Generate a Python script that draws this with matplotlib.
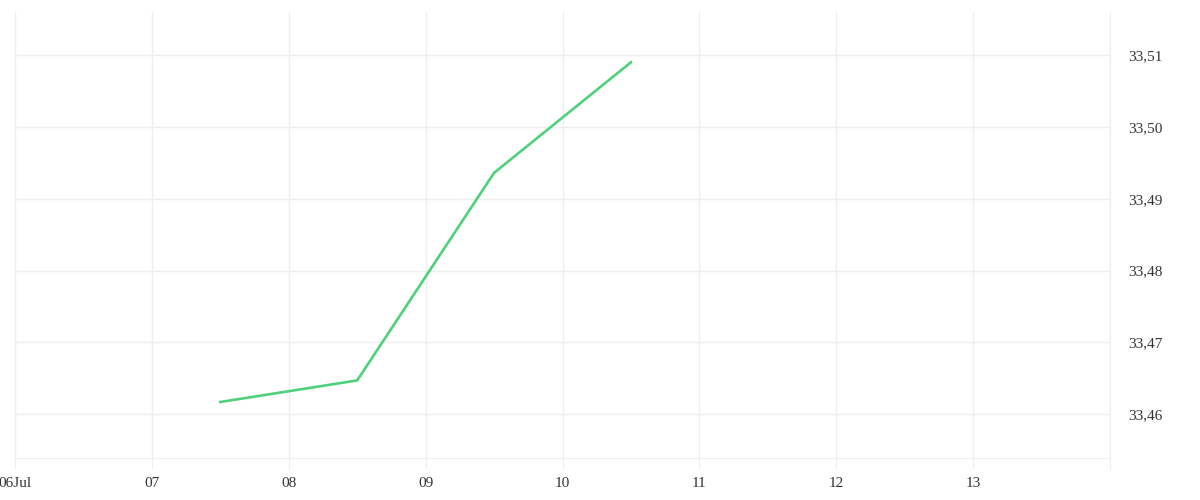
import numpy as np
import matplotlib.pyplot as plt
import matplotlib.dates as mdates
from matplotlib.ticker import FixedLocator, FuncFormatter

# data
dates = np.array(['2024-07-07T12:00', '2024-07-08T12:00', '2024-07-09T12:00', '2024-07-10T12:00'], dtype='datetime64[m]')
values = [33.4617, 33.4647, 33.4936, 33.5090]
tick_days = np.arange(np.datetime64('2024-07-06'), np.datetime64('2024-07-15'))
tick_labels = ['06Jul', '07', '08', '09', '10', '11', '12', '13', '']
y_ticks = [33.46, 33.47, 33.48, 33.49, 33.50, 33.51]

plt.rcParams['font.family'] = ['Liberation Serif', 'DejaVu Serif']

fig = plt.figure(figsize=(12, 5), dpi=100)
ax = fig.add_axes([15/1200, 1 - 458/500, (1110-15)/1200, (458-12)/500])

ax.plot(dates.astype(object), values, color='#4fd17c', linewidth=1.9)

day_nums = [mdates.date2num(d.astype(object)) for d in tick_days]
ax.set_xlim(day_nums[0], day_nums[-1])
ax.set_ylim(33.4539, 33.5160)

ax.xaxis.set_major_locator(FixedLocator(day_nums))
ax.set_xticklabels(tick_labels)
ax.yaxis.tick_right()
ax.set_yticks(y_ticks)
ax.yaxis.set_major_formatter(FuncFormatter(lambda v, p: f'{v:.2f}'.replace('.', ',')))

ax.grid(True, color='#eeeeee', linewidth=1)
for s in ['top', 'left']:
    ax.spines[s].set_visible(False)
ax.spines['bottom'].set_color('#eeeeee')
ax.spines['right'].set_color('#eeeeee')
ax.tick_params(axis='x', length=8, color='#eeeeee', labelsize=11, labelcolor='#333333', pad=6)
ax.tick_params(axis='y', length=0, labelsize=11, labelcolor='#333333', pad=13)

plt.savefig('out.png')
